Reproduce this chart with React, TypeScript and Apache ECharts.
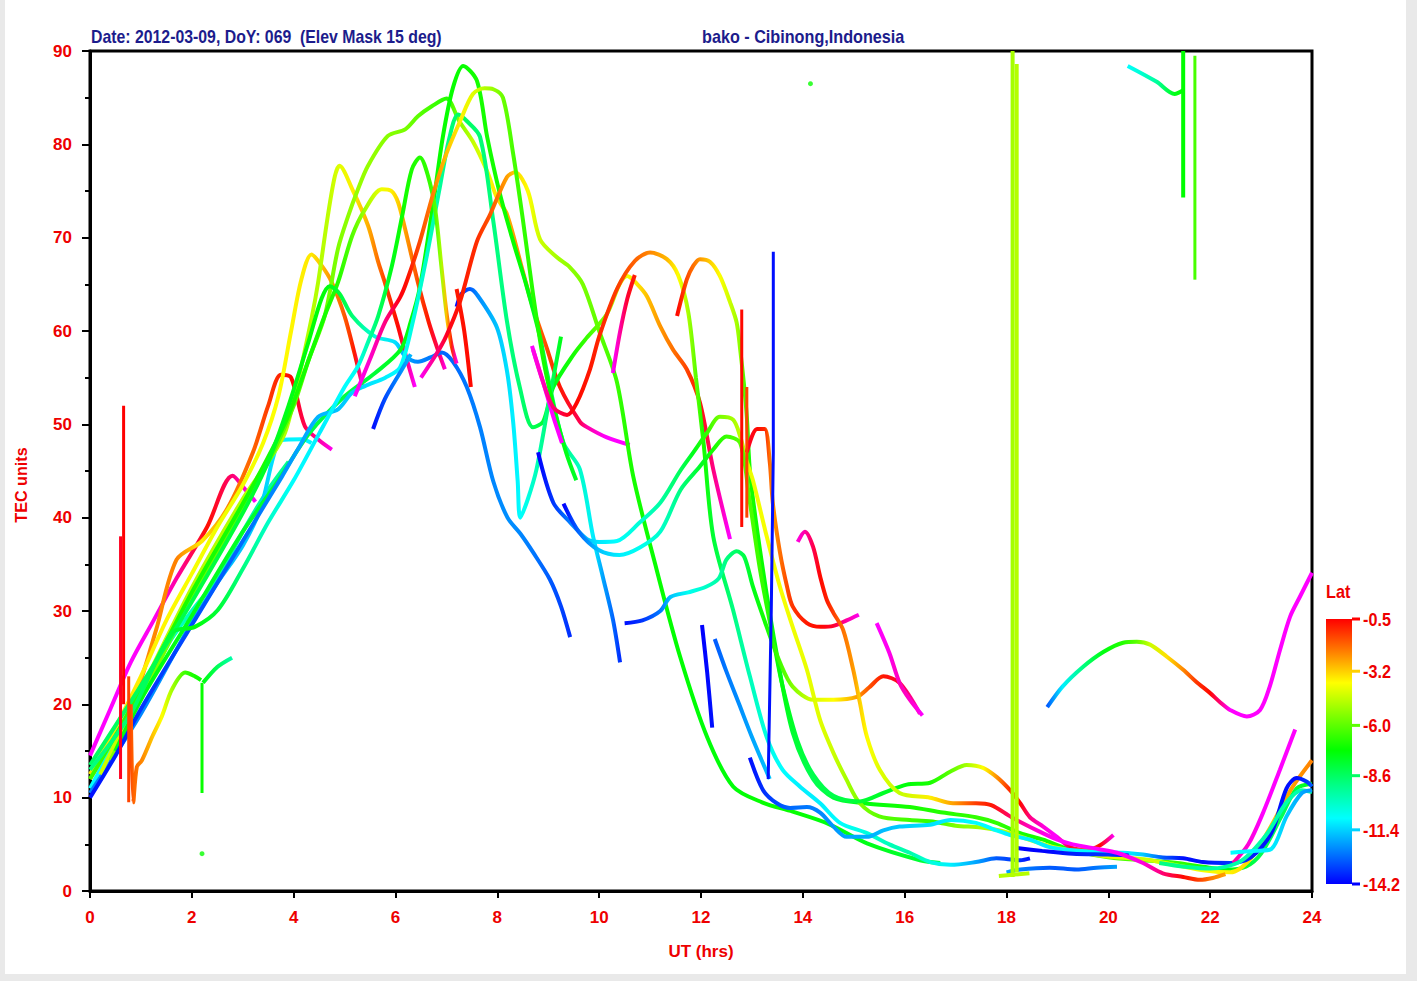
import React, { useEffect, useRef } from 'react';
import * as echarts from 'echarts';

// ---------- axis / legend values ----------
const xMin = 0, xMax = 24, xInterval = 2;
const yMin = 0, yMax = 90, yInterval = 10;
const latTicks = [-0.5, -3.2, -6.0, -8.6, -11.4, -14.2];
const latTop = -0.5, latBottom = -14.2;
const titleLeft = 'Date: 2012-03-09, DoY: 069  (Elev Mask 15 deg)';
const titleRight = 'bako - Cibinong,Indonesia';
const yName = 'TEC units';
const xName = 'UT (hrs)';
const legendName = 'Lat';

// colour scale for latitude (jet-like, magenta beyond the top)
const latColorScale: [number, string][] = [
  [-14.2, '#0000ff'], [-12.5, '#0080ff'], [-10.8, '#00ffff'], [-9.0, '#00ff80'],
  [-7.3, '#00ff00'], [-5.5, '#80ff00'], [-3.8, '#ffff00'], [-2.2, '#ff8000'],
  [-0.5, '#ff0000'], [0.3, '#ff0080'], [1.0, '#ff00ff'],
];

// ---------- satellite tracks: [UT hrs, TEC, lat] ----------
const trackMR = [[0,14.5,1],[0.4,19.5,1],[0.8,24.5,1],[1.25,29,0.9],[1.7,33.5,0.5],[2.3,39,-0.7],[2.8,44.5,0.2],[3.05,43,0.8],[3.25,41.7,1]];
const trackO1 = [[0,12,-2.6],[0.5,16.5,-2.5],[0.9,21,-2.4],[1.3,28,-2.3],[1.7,35.5,-2.2],[2.2,37.5,-3.6],[2.7,41,-2.2],[3.2,47,-1.8],[3.5,52,-1.3],[3.75,55.3,-0.9],[3.95,55,-0.6],[4.22,49.8,0],[4.5,48.3,0.5],[4.75,47.3,0.9]];
const trackY1 = [[0,12.5,-3.4],[0.5,17.5,-3.5],[1,23,-3.6],[1.5,29,-3.7],[2,34,-3.9],[2.5,39,-4],[3,43.5,-4],[3.4,48,-3.9],[3.7,53,-3.8],[3.95,60,-3.7],[4.15,65.5,-3.6],[4.35,68.2,-3.5],[4.55,67,-3],[4.75,65.2,-2.4],[5.0,61.6,-1.7],[5.2,57.5,-0.8],[5.35,54.2,0.8]];
const trackY3 = [[0.2,12.5,-4.5],[1,21.5,-4.6],[2,32.5,-4.8],[3,42,-4.8],[3.5,46,-4.8],[3.83,49.1,-4.8],[4.08,54.5,-4.8],[4.36,61.6,-4.8],[4.48,65.2,-4.8],[4.67,72.3,-4.7],[4.81,76.6,-4.4],[4.9,77.7,-4.2],[5.15,75.2,-3.6],[5.46,71.3,-2.8],[5.66,67.4,-2],[5.79,65.2,-1.4],[6.05,60.5,-0.6],[6.22,57,0.3],[6.38,54,1]];
const trackYG = [[0.4,14,-5.5],[1,20.5,-5.5],[2,31.5,-5.8],[3,41,-6],[3.6,47,-6],[4.0,52,-6],[4.3,57,-6],[4.61,61.6,-5.8],[4.87,68.8,-5.5],[5.07,72.3,-5.3],[5.25,75,-5.2],[5.46,77.7,-5.2],[5.85,80.9,-5.4],[6.19,81.6,-5.6],[6.44,83,-6],[6.72,84.1,-6.4],[7.0,84.9,-6.8],[7.25,82.5,-5.5],[7.52,80.3,-4.6],[7.8,77.1,-4],[7.99,74.3,-3.5],[8.19,72.5,-2.8],[8.5,66.4,-2.3],[8.7,62.5,-2],[8.97,58.2,-1.5],[9.23,54,-0.8],[9.62,50.3,0],[9.76,49.7,0.5],[10.15,48.6,1],[10.6,47.8,1]];
const trackY2 = [[0,12,-6.5],[1,21.5,-6.8],[2,32,-7],[3,41.5,-7],[3.5,46.5,-7],[3.9,51,-7],[4.3,57,-7],[4.6,61.5,-7],[4.87,65.2,-6.8],[5.15,70.2,-6.1],[5.4,73,-5.1],[5.73,75.2,-4],[5.92,75,-3.6],[6.05,73.8,-3.2],[6.19,70.9,-2.6],[6.44,65.2,-1.5],[6.65,61,-0.8],[6.83,58,0],[6.97,55.9,0.8]];
const trackG1 = [[0,13.5,-8.6],[1,22,-8.5],[2,31,-8.2],[3,40.5,-8],[3.5,46,-7.8],[3.9,52,-7.6],[4.3,59,-7.4],[4.55,63.5,-7.4],[4.71,64.8,-7.6],[4.9,64,-8],[5.15,61.6,-8.8],[5.6,59.4,-10.4],[5.99,58.8,-11.2],[6.19,57.3,-12],[6.44,56.7,-12.4],[6.7,57.2,-12.6],[6.91,57.7,-12.8],[7.13,56.7,-12.8],[7.4,54,-12.6],[7.66,49.7,-12.5],[7.92,43.9,-12.4],[8.2,40,-12.3],[8.45,38.3,-12.4],[8.7,36.3,-12.6],[9.03,33.4,-13],[9.25,30.5,-13.3],[9.43,27.2,-13.6]];
const trackG88 = [[0.5,15,-7.5],[1,20.5,-7.5],[2,29.5,-7.6],[3,38.5,-7.8],[3.7,44,-8],[4.3,49,-8.2],[5,53,-8.2],[5.6,55.5,-8],[6.1,58,-7.6],[6.3,61,-7.4],[6.48,64.7,-7.3],[6.74,73.6,-7.2],[6.93,80.8,-7.2],[7.13,86.1,-7.2],[7.33,88.4,-7.2],[7.6,86.8,-7],[7.8,80.8,-7],[8.05,74.7,-7.1],[8.31,69.6,-7.2],[8.58,64.7,-7.4],[8.84,59.3,-7.8],[8.97,55.7,-8.2],[9.3,48,-9],[9.62,45.2,-10],[9.88,38,-11],[10.07,33.7,-12],[10.27,29.1,-12.8],[10.41,24.5,-13.6]];
const trackA = [[0,10,-14],[0.5,14.5,-13.8],[1,19.5,-13.5],[2,28.5,-13.2],[3,37.5,-12.8],[3.77,44.4,-12.3],[4.08,47.3,-12],[4.48,50.8,-11.8],[4.87,51.6,-11.6],[5.15,53.4,-11.4],[5.4,54.1,-11.2],[5.8,55,-11],[6.09,56.1,-10.8],[6.34,61,-10.4],[6.62,68.2,-10],[6.87,75.4,-9.4],[7.05,80.5,-9],[7.23,83.2,-8.6],[7.4,82.5,-8.6],[7.66,80.8,-8.8],[7.92,71.8,-9],[8.19,61,-9],[8.44,54,-8.8],[8.7,49.7,-8.4],[8.9,50.3,-8],[9.1,54,-7.6],[9.5,57.5,-7],[9.76,59.3,-6.5],[10.15,61.8,-5.4],[10.4,65,-4.5],[10.55,65.9,-4],[10.75,65,-3.5],[10.94,63.7,-3],[11.2,60.5,-2.5],[11.45,58,-2],[11.72,55.9,-1.4],[11.98,52.3,-0.8],[12.24,45.2,0.3],[12.57,37.7,1]];
const trackB = [[0,10.5,-12.5],[1,19,-12.4],[2,28.8,-12],[2.5,33,-11.8],[3,37,-11.6],[3.35,41,-11.5],[3.6,46.5,-11.2],[3.75,48.3,-11],[4.16,48.4,-10.9],[4.35,48,-10.9]];
const trackC = [[0,11,-10.8],[1,21,-10.5],[1.6,27,-10],[2,30,-9.8],[2.5,33.5,-9.6],[3,38.5,-9.5],[3.5,43,-9.4],[3.9,46,-9.3]];
const trackG78 = [[0,13,-9],[0.8,19,-8.8],[1.61,27.7,-8],[2.06,28.3,-7.4],[2.51,30.1,-8],[3,34.5,-9],[3.5,39.5,-10],[4,44,-10.8],[4.5,49,-11],[5.0,54,-10.8],[5.26,56.2,-10.6],[5.46,58.8,-9.6],[5.66,61.6,-8.6],[5.93,67,-7.6],[6.13,72.3,-7.1],[6.32,77.3,-6.9],[6.48,78.6,-6.8],[6.64,76.6,-6.6],[6.78,73,-6.2],[6.9,67,-5],[7.0,62,-3],[7.1,58.5,-1],[7.2,56.5,0.8]];
const trackDB = [[5.56,49.5,-14],[5.79,52.7,-13.2],[6.13,55.9,-12.2],[6.3,57.5,-11.8]];
const trackBlue64 = [[7.2,62.6,-14],[7.3,64,-13.6],[7.46,64.5,-13],[7.6,63.9,-12.4],[7.99,60.4,-11.6],[8.19,55.7,-11.2],[8.31,50.3,-11],[8.4,43.9,-10.9],[8.45,40,-10.8],[8.6,42,-10.4],[8.77,45.2,-9.8],[9.0,52,-8.8],[9.25,59.4,-7.6]];
const trackRedSeg = [[7.2,64.5,-0.8],[7.35,60,-0.7],[7.48,54,-0.6]];
const track77 = [[6.5,55,0.9],[6.8,57.5,0.3],[7.0,59.5,-0.3],[7.27,63.2,-0.8],[7.6,69.6,-1.1],[7.86,72.5,-1.6],[8.19,76.5,-2.6],[8.35,77,-3.2],[8.6,75,-3.8],[8.84,69.8,-4.5],[9.17,67.9,-5],[9.43,66.8,-5.3],[9.68,65,-5.6],[10.0,60,-6],[10.35,54.5,-6.5],[10.67,44.4,-7],[11.13,34.4,-7.2],[11.59,25.1,-7.3],[12.12,16.5,-7.4],[12.63,11.2,-7.4],[13.2,9.5,-7.2],[13.8,8.5,-7.2],[14.5,7.2,-7.5],[15.26,5.1,-7.6],[16.3,3.3,-8],[16.7,3.0,-8.5]];
const trackP = [[5.2,53,1],[5.5,57,0.7],[5.8,61,0.3],[6.09,63.6,-0.4],[6.22,65.3,-0.7],[6.48,69.6,-1.5],[6.74,74.7,-2.2],[7.0,79,-3],[7.27,82.5,-3.6],[7.52,85.4,-4.2],[7.75,86,-4.8],[7.92,85.9,-5.2],[8.11,85,-5.8],[8.31,79,-6.3],[8.5,72,-6.6],[8.7,64,-6.8],[8.9,57,-7],[9.1,52,-7.3],[9.35,47,-7.6],[9.55,44,-7.8]];
const trackMag1 = [[8.68,58.4,1],[8.9,54.5,1],[9.1,50.8,1],[9.27,48,1]];
const track68 = [[8.7,58,0.9],[8.9,54.5,0.6],[9.1,51.8,0.2],[9.37,51,-0.3],[9.56,52.3,-0.6],[9.82,55.9,-0.8],[10.0,59.4,-1],[10.35,64.5,-1.3],[10.7,67.5,-1.8],[11.0,68.4,-2.3],[11.33,67.7,-2.9],[11.55,66,-3.8],[11.75,62,-5],[11.9,55,-6],[12.05,48,-7],[12.24,38,-8],[12.63,30.1,-9],[12.96,23,-9.8],[13.29,16.5,-10.4],[13.6,13,-10.8],[13.94,11.2,-11],[14.34,9.4,-11],[14.73,7.3,-10.8],[15.26,6.2,-10.3],[15.7,5,-9.8],[16.1,4.1,-9.6],[16.5,3.1,-10.3],[16.9,2.8,-11],[17.4,3.1,-12],[17.8,3.5,-13],[18.27,3.3,-13.6],[18.46,3.5,-14]];
const trackMag2 = [[10.27,55.5,1],[10.41,59.9,0.5],[10.55,63.4,-0.2],[10.7,66,-0.9]];
const track67 = [[11.53,61.6,-0.6],[11.72,65.5,-1.5],[11.85,67,-2],[11.98,67.7,-2.5],[12.18,67.4,-3.2],[12.37,65.9,-3.8],[12.57,63.1,-4.5],[12.7,60.9,-5],[12.77,58,-5.5],[12.84,54.5,-6],[12.9,50.8,-6.5],[12.97,44.4,-7],[13.2,35,-7.2],[13.5,25,-7.5],[13.8,17,-8],[14.2,12,-8.4],[14.6,10,-8],[15.2,9.4,-7.5],[16.1,9.0,-7],[16.75,8.4,-6.8],[17.4,7.9,-6.6],[17.8,7.3,-6.6],[18.27,6.2,-7],[18.72,5.5,-7],[19.1,4.7,-7],[19.5,4.1,-6.6],[20.03,3.6,-6.2],[20.68,3.3,-6.2],[21.35,3.0,-6.6],[21.86,2.6,-7],[22.33,2.3,-7.5],[22.7,2.6,-8],[23.0,4,-8.4],[23.4,8,-8.5],[23.7,11,-8],[24,11.5,-7.5]];
const trackQ1 = [[8.8,47,-14.2],[9.1,41.6,-13.5],[9.43,39.5,-12.5],[9.76,37.7,-11.6],[10.0,37.4,-11.1],[10.35,37.5,-10.8],[10.8,39.5,-10.2],[11.2,41.6,-9.5],[11.59,45,-8.5],[11.85,47,-7.6],[12.12,49.1,-6.6],[12.37,50.8,-5.6],[12.63,50.5,-5],[12.77,48.7,-4.6],[12.9,46,-4.3],[13.02,44,-4],[13.29,38,-3.9],[13.55,32.6,-3.9],[13.8,28.3,-4],[14.08,23.7,-4.1],[14.34,18.3,-4.2],[14.6,14.8,-4.5],[14.86,11.9,-5],[15.12,9.4,-5.5],[15.5,8,-6],[16.1,7.6,-6.4],[16.6,7.4,-6.6],[17.0,7.0,-5.5],[17.5,6.8,-5],[18.0,6.3,-4.6],[18.5,5.4,-4.3],[19.0,4.6,-4],[19.5,4.1,-4],[20.0,3.7,-4.1],[20.7,3.4,-4.5],[21.3,2.8,-4.2],[21.9,2.2,-3.9],[22.4,2.0,-3.6],[22.8,3.5,-3.3],[23.2,7,-3],[23.6,11,-2.6],[24,14,-2.2]];
const trackQ2 = [[9.3,41.5,-14.2],[9.6,38.5,-12.8],[10.0,36.5,-11.6],[10.4,36,-11],[10.8,36.8,-10.6],[11.2,38.5,-10.1],[11.6,43,-9],[11.98,45.5,-7.8],[12.24,47.3,-7],[12.5,48.7,-6.5],[12.77,48,-6],[12.95,42,-6.2],[13.16,34.4,-6.5],[13.41,27.2,-7],[13.6,22,-7.5],[13.9,16,-8],[14.2,12.5,-8.3],[14.6,10.2,-8.3],[15.12,9.6,-8],[15.58,10.5,-7.8],[16.04,11.4,-7.4],[16.5,11.6,-7],[16.9,12.8,-6],[17.22,13.5,-5],[17.54,13.2,-3.8],[17.81,12.2,-2.4],[18.07,10.8,-1],[18.27,9.4,-0.6],[18.46,7.9,0.3],[18.72,6.9,0.8],[18.99,5.8,1],[19.25,4.7,-0.2],[19.58,4.4,-1.8],[19.84,4.9,-0.6],[20.1,6.0,0.9]];
const trackT36 = [[10.5,28.7,-14],[10.85,29,-13.5],[11.2,30,-12.6],[11.4,31.5,-11.6],[11.75,32,-10.6],[12.1,32.6,-10],[12.35,33.5,-9.5],[12.5,35.5,-9],[12.7,36.4,-8.6],[12.85,35.8,-8.2],[13.02,32.6,-7.6],[13.29,28.3,-7],[13.55,24.5,-6.4],[13.8,21.9,-5.5],[14.2,20.5,-4.3],[14.6,20.5,-3.8],[15.06,20.8,-2.6],[15.3,21.8,-1.6],[15.58,23,-0.8],[15.9,22.3,-0.2],[16.3,19,0.7]];
const trackDB2 = [[12.02,28.5,-14.2],[12.12,23.5,-14.1],[12.22,17.5,-14]];
const trackLB2 = [[12.27,27,-13],[12.5,23.5,-12.6],[12.75,20,-12.3],[13.0,16.5,-12],[13.35,12,-11.6]];
const trackB1 = [[12.96,14.3,-14],[13.22,10.8,-13.6],[13.49,9.4,-13.2],[13.75,8.9,-12.8],[14.08,9,-12.6],[14.34,8.4,-12.4],[14.6,6.9,-12.2],[14.86,5.8,-12],[15.26,5.8,-11.9],[15.58,6.5,-11.7],[15.9,6.9,-11.5],[16.5,7.1,-11.2],[16.9,7.6,-11],[17.4,7.3,-10.8],[17.8,6.5,-10.8],[18.07,6,-11],[18.46,5.5,-11],[18.85,4.7,-11],[19.25,4.4,-10.9],[19.77,4.2,-10.8],[20.29,4.1,-10.9],[20.68,3.9,-11.5],[21.07,3.6,-13],[21.47,3.5,-14],[21.86,3.1,-14],[22.4,3.0,-13.5],[22.8,3.6,-13.8],[23.2,6.2,-14],[23.5,11,-14],[23.7,12.1,-14],[23.9,11.7,-13.5],[24,11.2,-13]];
const trackDB3 = [[18.2,4.6,-14.2],[18.7,4.3,-14.2],[19.3,4.0,-13.8],[20.0,3.9,-13.5],[20.4,3.8,-14]];
const trackBL = [[18.0,2.0,-12],[18.27,2.3,-12.5],[18.85,2.5,-13],[19.38,2.3,-13],[19.77,2.5,-12.6],[20.17,2.6,-12]];
const trackR2 = [[12.9,47,-0.2],[13.1,49.5,-0.6],[13.25,49.5,-1],[13.35,46,-2],[13.41,41.6,-2.5],[13.55,36.3,-2],[13.69,32.6,-1.5],[13.8,30.5,-1.2],[14.08,28.7,-0.8],[14.35,28.3,-0.6],[14.6,28.4,-0.2],[14.86,29,0.5],[15.1,29.6,0.9]];
const trackR1 = [[13.9,37.4,0.8],[14.04,38.5,0.5],[14.2,36.9,0],[14.34,33.7,-0.6],[14.47,31.2,-0.9],[14.6,29.8,-1.3],[14.79,28,-2],[14.99,23.7,-2.5],[15.12,20.2,-3.2],[15.26,16.5,-3.8],[15.51,13,-4.2],[15.9,10.5,-4.6],[16.5,10,-3.6],[16.95,9.4,-2.6],[17.4,9.4,-1.3],[17.7,9.2,-0.8],[18.1,7.9,0.2],[18.6,6.5,0.8],[19.0,5.5,1],[19.3,5,1],[19.8,4.5,1],[20.17,4.1,1],[20.68,3,0.8],[21.07,1.9,0.2],[21.47,1.5,-0.6],[21.8,1.2,-1.4],[22.05,1.4,-2.2],[22.3,1.8,-2.6]];
const trackMagTail = [[15.45,28.7,1],[15.7,25.5,0.9],[15.9,22.3,0.6],[16.1,20.5,0.7],[16.35,18.8,1]];
const trackArc = [[18.8,19.7,-13],[19.1,21.9,-11],[19.5,24,-9],[19.9,25.6,-7.5],[20.29,26.6,-6.8],[20.56,26.7,-6],[20.82,26.4,-4.5],[21.15,25.1,-3.4],[21.47,23.7,-2.3],[21.73,22.4,-1.2],[22.0,21.2,-0.6],[22.2,20.2,0.3],[22.39,19.4,1],[22.72,18.7,1],[22.98,19.4,1],[23.17,21.9,1],[23.37,25.8,1],[23.57,29.4,1],[23.76,31.5,1],[24,34.1,1]];
const trackMagRise = [[22.45,3,0.5],[22.75,5,0.8],[23.04,8.4,1],[23.37,13,1],[23.67,17.3,1]];
const trackTealEnd = [[21.0,3.0,-9],[21.5,2.6,-9.2],[22.0,2.4,-9.5],[22.6,3.2,-9.6],[23.1,6,-9.6],[23.5,9.5,-9.6],[23.8,10.8,-9.6],[24,10.6,-9.6]];
const trackCyanEnd = [[22.4,4.1,-10.8],[22.9,4.3,-10.9],[23.2,4.5,-11],[23.5,8,-11.5],[23.8,10.5,-12],[24,10.8,-12.2]];
const trackS1 = [[0.8,20,-1.5],[0.85,9.5,-1.8],[0.92,13.3,-2],[1.02,14,-2.3],[1.22,16.5,-3],[1.41,18.7,-3.8],[1.61,21.6,-5],[1.87,23.4,-6.5],[2.06,23,-7],[2.18,22.6,-7.2]];
const trackS2 = [[2.22,22.3,-7.5],[2.5,24,-8.5],[2.79,25,-9.6]];
const trackTopCyan = [[20.38,88.4,-10.8],[20.95,86.7,-9.4],[21.3,85.4,-7.6],[21.47,85.8,-7.2]];

const allTracks = [
  trackMR, trackO1, trackC, trackB, trackY1, trackY3, trackYG, trackY2, trackG1, trackG88, trackA,
  trackG78, trackDB, trackBlue64, trackRedSeg, track77, trackP, trackMag1, track68, trackMag2, track67,
  trackQ1, trackQ2, trackT36, trackDB2, trackLB2, trackB1, trackDB3, trackBL, trackR2, trackR1,
  trackMagTail, trackArc, trackMagRise, trackTealEnd, trackCyanEnd, trackS1, trackS2, trackTopCyan,
];

// ---------- near-vertical jumps: [UT, TEC] with one lat ----------
const spikeRedA = [[0.66,52],[0.66,20]];
const spikeRedB = [[0.6,38],[0.6,12]];
const spikeOrange = [[0.76,23],[0.76,9.5]];
const spikeGreen = [[2.2,22.3],[2.2,10.5]];
const spikeRedMid = [[12.8,62.3],[12.8,39]];
const spikeOrangeMid = [[12.9,54],[12.9,40]];
const spikeBlue = [[13.42,68.5],[13.42,47],[13.38,30],[13.32,12]];
const spikeYG1 = [[18.12,90],[18.12,1.5]];
const spikeYG2 = [[18.2,88.6],[18.2,2]];
const spikeBottomYG = [[17.85,1.6],[18.45,1.9]];
const spikeTopG1 = [[21.47,90],[21.47,74.3]];
const spikeTopG2 = [[21.7,89.5],[21.7,65.5]];
const spikes: [number[][], number, number][] = [
  [spikeRedA, -0.5, 3], [spikeRedB, -0.3, 3], [spikeOrange, -1.4, 3], [spikeGreen, -7.2, 3],
  [spikeRedMid, -0.6, 3], [spikeOrangeMid, -1.4, 3], [spikeBlue, -14, 3],
  [spikeYG1, -5.0, 4], [spikeYG2, -4.8, 4], [spikeBottomYG, -4.8, 4],
  [spikeTopG1, -7.3, 4], [spikeTopG2, -6.3, 3],
];
const isolatedPoints = [[14.15,86.5],[2.2,4]];

// ---------- helpers ----------
function hexToRgb(h: string) {
  return [parseInt(h.slice(1, 3), 16), parseInt(h.slice(3, 5), 16), parseInt(h.slice(5, 7), 16)];
}
function latColor(lat: number): string {
  const s = latColorScale;
  if (lat <= s[0][0]) return s[0][1];
  if (lat >= s[s.length - 1][0]) return s[s.length - 1][1];
  for (let i = 0; i < s.length - 1; i++) {
    const [a, ca] = s[i];
    const [b, cb] = s[i + 1];
    if (lat >= a && lat <= b) {
      const f = (lat - a) / (b - a);
      const A = hexToRgb(ca), B = hexToRgb(cb);
      const c = A.map((v, k) => Math.round(v + (B[k] - v) * f));
      return `rgb(${c[0]},${c[1]},${c[2]})`;
    }
  }
  return s[0][1];
}

const FONT = "'Liberation Sans', Arial, sans-serif";
const RED = '#ee0000';
const NAVY = '#1c1c8c';

function trackSeries(pts: number[][], idx: number) {
  const t0 = pts[0][0];
  const t1 = pts[pts.length - 1][0];
  const span = t1 - t0 || 1;
  const stops = pts.map((p) => ({ offset: Math.min(1, Math.max(0, (p[0] - t0) / span)), color: latColor(p[2]) }));
  return {
    type: 'line',
    name: 'track' + idx,
    data: pts.map((p) => [p[0], p[1]]),
    symbol: 'none',
    smooth: 0.3,
    silent: true,
    z: 3,
    lineStyle: { width: 4, color: new echarts.graphic.LinearGradient(0, 0, 1, 0, stops) },
  };
}

// grid geometry (pixels)
const G = { left: 90, top: 51, width: 1222, height: 840 };
const BAR = { x: 1326, y: 619, w: 26, h: 265 };

export default function App() {
  const ref = useRef<HTMLDivElement>(null);
  useEffect(() => {
    if (!ref.current) return;
    const chart = echarts.init(ref.current, undefined, { renderer: 'svg' });

    const latPos = (v: number) => BAR.y + ((latTop - v) / (latTop - latBottom)) * BAR.h;
    const barStops = latColorScale
      .filter(([l]) => l <= latTop && l >= latBottom)
      .map(([l]) => ({ offset: (latTop - l) / (latTop - latBottom), color: latColor(l) }))
      .sort((a, b) => a.offset - b.offset);

    const graphics: any[] = [
      { type: 'rect', z: -100, shape: { x: 0, y: 0, width: 1417, height: 981 }, style: { fill: '#e9e9e9' }, silent: true },
      { type: 'rect', z: -99, shape: { x: 5, y: 0, width: 1401, height: 974 }, style: { fill: '#ffffff' }, silent: true },
      {
        type: 'rect', shape: { x: BAR.x, y: BAR.y, width: BAR.w, height: BAR.h },
        style: { fill: new echarts.graphic.LinearGradient(0, 0, 0, 1, barStops) }, silent: true,
      },
      {
        type: 'text', x: BAR.x, y: 592, scaleX: 0.9,
        style: { text: legendName, fill: RED, font: `bold 18px ${FONT}`, verticalAlign: 'middle', align: 'left' },
      },
      {
        type: 'text', x: 91, y: 37, scaleX: 0.88,
        style: { text: titleLeft, fill: NAVY, font: `bold 18px ${FONT}`, verticalAlign: 'middle', align: 'left' },
      },
      {
        type: 'text', x: 702, y: 37, scaleX: 0.9,
        style: { text: titleRight, fill: NAVY, font: `bold 18px ${FONT}`, verticalAlign: 'middle', align: 'left' },
      },
      {
        type: 'text', x: 21, y: 485, rotation: Math.PI / 2, scaleX: 0.95,
        style: { text: yName, fill: RED, font: `bold 17px ${FONT}`, verticalAlign: 'middle', align: 'center' },
      },
    ];
    latTicks.forEach((v) => {
      const y = latPos(v);
      graphics.push({
        type: 'line', shape: { x1: BAR.x + BAR.w, y1: y, x2: BAR.x + BAR.w + 8, y2: y },
        style: { stroke: latColor(v), lineWidth: 3 }, silent: true,
      });
      graphics.push({
        type: 'text', x: BAR.x + BAR.w + 11, y: y + 1, scaleX: 0.9,
        style: { text: v.toFixed(1), fill: RED, font: `bold 18px ${FONT}`, verticalAlign: 'middle', align: 'left' },
      });
    });

    const series: any[] = allTracks.map((t, i) => trackSeries(t, i));
    spikes.forEach(([pts, lat, w], i) => {
      series.push({
        type: 'line', name: 'jump' + i, data: pts, symbol: 'none', silent: true, z: 4,
        lineStyle: { width: w, color: latColor(lat) },
      });
    });
    series.push({
      type: 'scatter', name: 'points', data: isolatedPoints, symbol: 'circle', symbolSize: 5,
      itemStyle: { color: latColor(-7.2) }, silent: true, z: 4,
    });

    chart.setOption({
      animation: false,
      backgroundColor: '#ffffff',
      grid: { ...G, show: true, borderColor: '#000', borderWidth: 3, backgroundColor: 'transparent', containLabel: false },
      xAxis: {
        type: 'value', min: xMin, max: xMax, interval: xInterval,
        name: xName, nameLocation: 'middle', nameGap: 52,
        nameTextStyle: { color: RED, fontSize: 17, fontWeight: 'bold', fontFamily: FONT },
        axisLine: { show: true, onZero: false, lineStyle: { color: '#000', width: 3 } },
        axisTick: { show: true, length: 7, lineStyle: { color: '#000', width: 2 } },
        axisLabel: { color: RED, fontSize: 17, fontWeight: 'bold', fontFamily: FONT, margin: 18 },
        splitLine: { show: false },
      },
      yAxis: {
        type: 'value', min: yMin, max: yMax, interval: yInterval,
        axisLine: { show: true, onZero: false, lineStyle: { color: '#000', width: 3 } },
        axisTick: { show: true, length: 8, lineStyle: { color: '#000', width: 2 } },
        minorTick: { show: true, splitNumber: 2, length: 5, lineStyle: { color: '#000', width: 2 } },
        axisLabel: { color: RED, fontSize: 17, fontWeight: 'bold', fontFamily: FONT, margin: 18 },
        splitLine: { show: false },
        minorSplitLine: { show: false },
      },
      graphic: { elements: graphics },
      series,
    });
    return () => chart.dispose();
  }, []);
  return <div ref={ref} style={{ position: 'fixed', left: 0, top: 0, width: 1417, height: 981 }} />;
}
